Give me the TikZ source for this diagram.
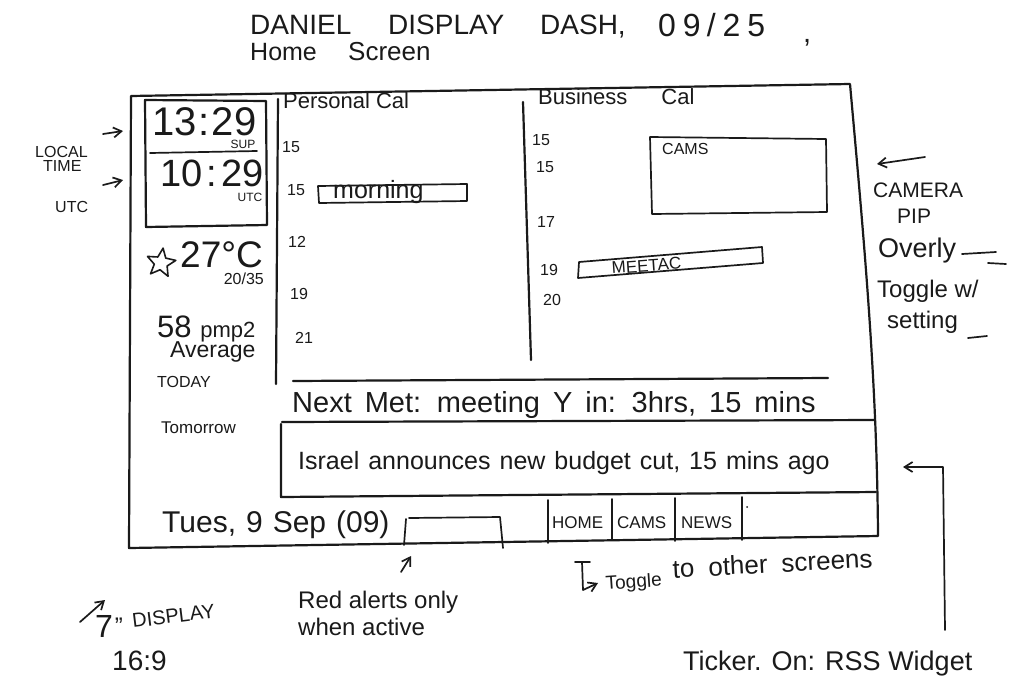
\documentclass[tikz,border=0pt]{standalone}
\usepackage{fontspec}
\setmainfont{Liberation Sans}
\usetikzlibrary{arrows.meta,shapes.geometric}
\newcommand\fsz[1]{\fontsize{#1}{#1}\selectfont}
\newcommand\wide[1]{\spaceskip=#1\relax}
% small caption tucked under the end of a large reading
\newcommand\undertag[2]{\llap{\raisebox{-#1}{\fsz{12}#2}\kern1pt}}
\definecolor{ink}{HTML}{1A1A1A}
\begin{document}
\begin{tikzpicture}[x=1pt,y=-1pt,line cap=round,line join=round,
  pen/.style={draw=ink,line width=2.2pt},
  fine/.style={draw=ink,line width=1.7pt},
  txt/.style={inner sep=0pt,anchor=base west,text=ink},
  tip/.style={-{Straight Barb[length=8pt,width=10pt,line width=1.7pt]}}
]
\useasboundingbox (0,0) rectangle (1024,683);
\fill[white] (0,0) rectangle (1024,683);

% heading
\node[txt] (t1) at (250,34) {\fsz{28}DANIEL};
\node[txt] (t2) at (388,34) {\fsz{28}DISPLAY};
\node[txt] (t3) at (540,34) {\fsz{28}DASH,};
\node[txt] (t4) at (658,36) {\fsz{32}0\kern7pt9\kern6pt/\kern7pt2\kern7pt5};
\node[txt] (t5) at (803,42) {\fsz{29},};
\node[txt] (t6) at (250,60) {\fsz{25}Home};
\node[txt] (t7) at (348,60) {\fsz{26}Screen};

% display frame
\draw[pen] (131,96) -- (850,84) .. controls (864,240) and (877,380) .. (878,536) -- (129,548) -- cycle;
\draw[pen] (278,99) -- (276,384);

% clocks
\draw[pen] (145,100) -- (266,101) -- (267,225) -- (146,227) -- cycle;
\draw[fine] (150,153) -- (257,151);
\node[txt] (loc) at (152,135) {\fsz{40}13\kern2pt:\kern2pt29\undertag{13pt}{SUP}};
\node[txt] (utcclock) at (160,186) {\fsz{38}10\kern4pt:\kern4pt29\undertag{15pt}{UTC}};

% side notes on the clocks
\node[txt] (lt1) at (35,157) {\fsz{16}LOCAL};
\node[txt] (lt2) at (43,171) {\fsz{16}TIME};
\node[txt] (ut) at (55,212) {\fsz{16}UTC};
\coordinate (a1s) at (103,134); \coordinate (a1e) at (123,131);
\coordinate (a2s) at (103,185); \coordinate (a2e) at (123,180);
\draw[fine,tip] (a1s) -- (a1e);
\draw[fine,tip] (a2s) -- (a2e);

% weather and air
\node[star,star points=5,star point ratio=2.2,draw=ink,line width=1.6pt,minimum size=30pt,inner sep=0pt,rotate=-8] (sun) at (161,263) {};
\node[txt] (temp) at (180,267) {\fsz{37}27°C\llap{\raisebox{-17pt}{\fsz{16}20/35}\kern-1pt}};
\node[txt] (aq) at (157,337) {\fsz{31}58 \fsz{22}pmp2};
\node[txt] (avg) at (170,357) {\fsz{23}Average};
\node[txt] (today) at (157,387) {\fsz{16}TODAY};
\node[txt] (tmrw) at (161,433) {\fsz{17}Tomorrow};

% personal calendar
\node[txt] (pcal) at (283,108) {\fsz{22}Personal Cal};
\node[txt] (p1) at (282,152) {\fsz{16}15};
\node[txt] (p2) at (287,195) {\fsz{16}15};
\node[txt] (p3) at (288,247) {\fsz{16}12};
\node[txt] (p4) at (290,299) {\fsz{16}19};
\node[txt] (p5) at (295,343) {\fsz{16}21};
\draw[fine] (318,186) -- (467,184) -- (467,201) -- (319,203) -- cycle;
\node[txt] (morn) at (333,198) {\fsz{25}morning};

% business calendar
\draw[pen] (523,102) -- (531,360);
\node[txt] (bcal) at (538,104) {\fsz{22}Business\hspace{34pt}Cal};
\node[txt] (b1) at (532,145) {\fsz{16}15};
\node[txt] (b2) at (536,172) {\fsz{16}15};
\node[txt] (b3) at (537,227) {\fsz{16}17};
\node[txt] (b4) at (540,275) {\fsz{16}19};
\node[txt] (b5) at (543,305) {\fsz{16}20};
\draw[fine] (650,137) -- (826,139) -- (827,212) -- (652,214) -- cycle;
\node[txt] (cams) at (662,154) {\fsz{16}CAMS};
\draw[fine] (579,262) -- (762,247) -- (763,263) -- (578,278) -- cycle;
\node[txt,rotate=4] (meet) at (612,274) {\fsz{17}MEETAC};

% camera note
\coordinate (c1s) at (925,157); \coordinate (c1e) at (877,164);
\draw[fine,tip] (c1s) -- (c1e);
\node[txt] (cam1) at (873,197) {\fsz{21}CAMERA};
\node[txt] (cam2) at (897,223) {\fsz{21}PIP};
\node[txt] (cam3) at (878,257) {\fsz{27}Overly};
\draw[fine] (962,254) -- (996,252);
\draw[fine] (988,263) -- (1006,264);
\node[txt] (cam4) at (877,297) {\fsz{24}Toggle w/};
\node[txt] (cam5) at (887,328) {\fsz{24}setting};
\draw[fine] (968,338) -- (987,336);

% next meeting strip
\draw[pen] (293,381) -- (828,378);
\node[txt] (next) at (292,412) {\fsz{29}\wide{13pt}Next Met: meeting Y in: 3hrs, 15 mins};

% news ticker
\draw[pen] (282,422) -- (875,420);
\draw[pen] (281,424) -- (281,497) -- (876,492);
\node[txt] (news) at (298,469) {\fsz{25}\wide{9pt}Israel announces new budget cut, 15 mins ago};

% bottom bar
\node[txt] (date) at (162,532) {\fsz{30}\wide{10pt}Tues, 9 Sep (09)};
\draw[fine] (404,545) -- (406,519);
\draw[fine] (409,518) -- (500,517) -- (503,548);
\draw[fine] (548,500) -- (548,543);
\draw[fine] (612,499) -- (612,540);
\draw[fine] (675,498) -- (675,541);
\draw[fine] (742,497) -- (742,540);
\node[txt] (home) at (552,528) {\fsz{17}HOME};
\node[txt] (tcams) at (617,528) {\fsz{17}CAMS};
\node[txt] (tnews) at (681,528) {\fsz{17}NEWS};
\fill[ink] (747,507) circle (1pt);

% notes under the frame
\coordinate (r1s) at (401,572); \coordinate (r1e) at (411,556);
\draw[fine,tip] (r1s) -- (r1e);
\node[txt] (red1) at (298,608) {\fsz{24}Red alerts only};
\node[txt] (red2) at (298,635) {\fsz{24}when active};
\draw[fine] (575,562) -- (590,562);
\coordinate (h1) at (582,562); \coordinate (h2) at (583,590); \coordinate (h3) at (598,583);
\draw[fine,tip] (h1) -- (h2) -- (h3);
\node[txt,rotate=4] (tog1) at (606,590) {\fsz{19}Toggle};
\node[txt,rotate=3] (tog2) at (673,578) {\fsz{26}\wide{14pt}to other screens};

\coordinate (k1) at (945,630); \coordinate (k2) at (943,467); \coordinate (k3) at (903,467);
\draw[fine,tip] (k1) -- (k2) -- (k3);
\node[txt] (tick) at (683,670) {\fsz{27}Ticker. On: RSS Widget};

\coordinate (d1) at (80,622); \coordinate (d2) at (105,600);
\draw[fine,tip] (d1) -- (d2);
\node[txt] (inch) at (95,637) {\fsz{32}7\kern2pt\raisebox{3pt}{\fsz{24}"}};
\node[txt,rotate=7] (disp) at (133,628) {\fsz{20}DISPLAY};
\node[txt] (ratio) at (112,670) {\fsz{28}16:9};
\end{tikzpicture}
\end{document}
